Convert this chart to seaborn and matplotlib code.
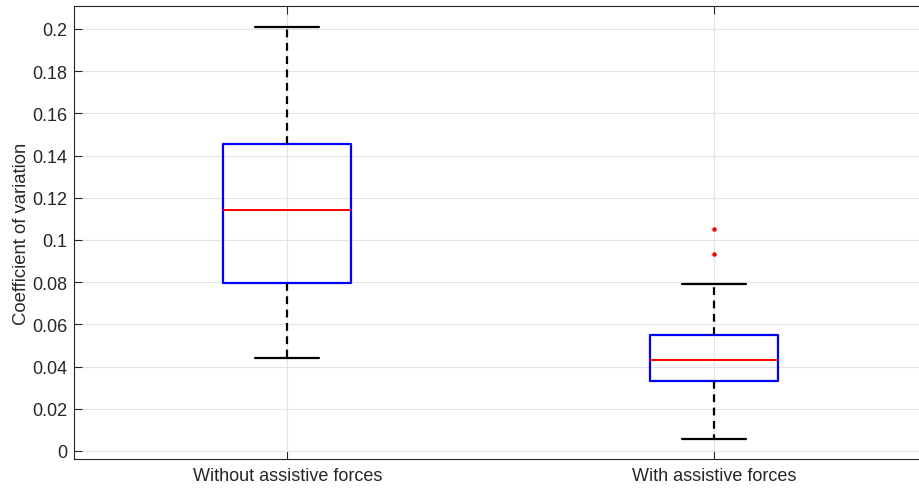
import numpy as np
import pandas as pd
import matplotlib
matplotlib.use("Agg")
import matplotlib.pyplot as plt
import seaborn as sns
from matplotlib.ticker import FuncFormatter

# Datos (min, cuartiles, mediana, max y atipicos)
sin_fuerzas = [0.0441, 0.0796, 0.1142, 0.1455, 0.2009]
con_fuerzas = [0.0057, 0.0200, 0.0280, 0.0332, 0.0370, 0.0400, 0.0431,
               0.0470, 0.0510, 0.0550, 0.0791, 0.0934, 0.1054]
grupos = ["Without assistive forces", "With assistive forces"]

df = pd.DataFrame({
    "grupo": [grupos[0]] * len(sin_fuerzas) + [grupos[1]] * len(con_fuerzas),
    "cv": sin_fuerzas + con_fuerzas,
})

sns.set_style("white")
plt.rcParams["font.family"] = ["Liberation Sans", "DejaVu Sans"]

fig = plt.figure(figsize=(9.2, 4.89), dpi=100)
ax = fig.add_axes([74 / 920, 1 - 460 / 489, (927.5 - 74) / 920, 453 / 489])

sns.boxplot(data=df, x="grupo", y="cv", order=grupos, ax=ax, width=0.3,
            fill=False, color="blue", linewidth=1.6, whis=1.5,
            boxprops=dict(color="blue", linewidth=1.6),
            medianprops=dict(color="red", linewidth=1.4),
            whiskerprops=dict(color="black", linewidth=1.6, linestyle=(0, (3.5, 2.5))),
            capprops=dict(color="black", linewidth=1.6),
            flierprops=dict(marker=".", markersize=4.5, markerfacecolor="red",
                            markeredgecolor="red"))

ax.set_xlim(-0.5, 1.5)
ax.set_ylim(-0.0038, 0.2109)
ax.set_yticks(np.arange(0, 0.201, 0.02))
ax.yaxis.set_major_formatter(FuncFormatter(lambda v, p: f"{round(v, 4):g}"))
ax.set_xlabel("")
ax.set_ylabel("Coefficient of variation", fontsize=13.3, color="#262626")
ax.yaxis.set_label_coords(-0.0515, 0.5)
ax.grid(True, color="#e3e3e3", linewidth=0.8)
ax.set_axisbelow(True)
ax.tick_params(direction="in", length=6, width=0.8, colors="#262626",
               labelsize=13, top=True, right=True, left=True, bottom=True)
ax.tick_params(axis="x", pad=6)
ax.tick_params(axis="y", pad=5)
for s in ax.spines.values():
    s.set_visible(True)
    s.set_color("#262626")
    s.set_linewidth(0.8)

fig.savefig("out.png", dpi=100)
